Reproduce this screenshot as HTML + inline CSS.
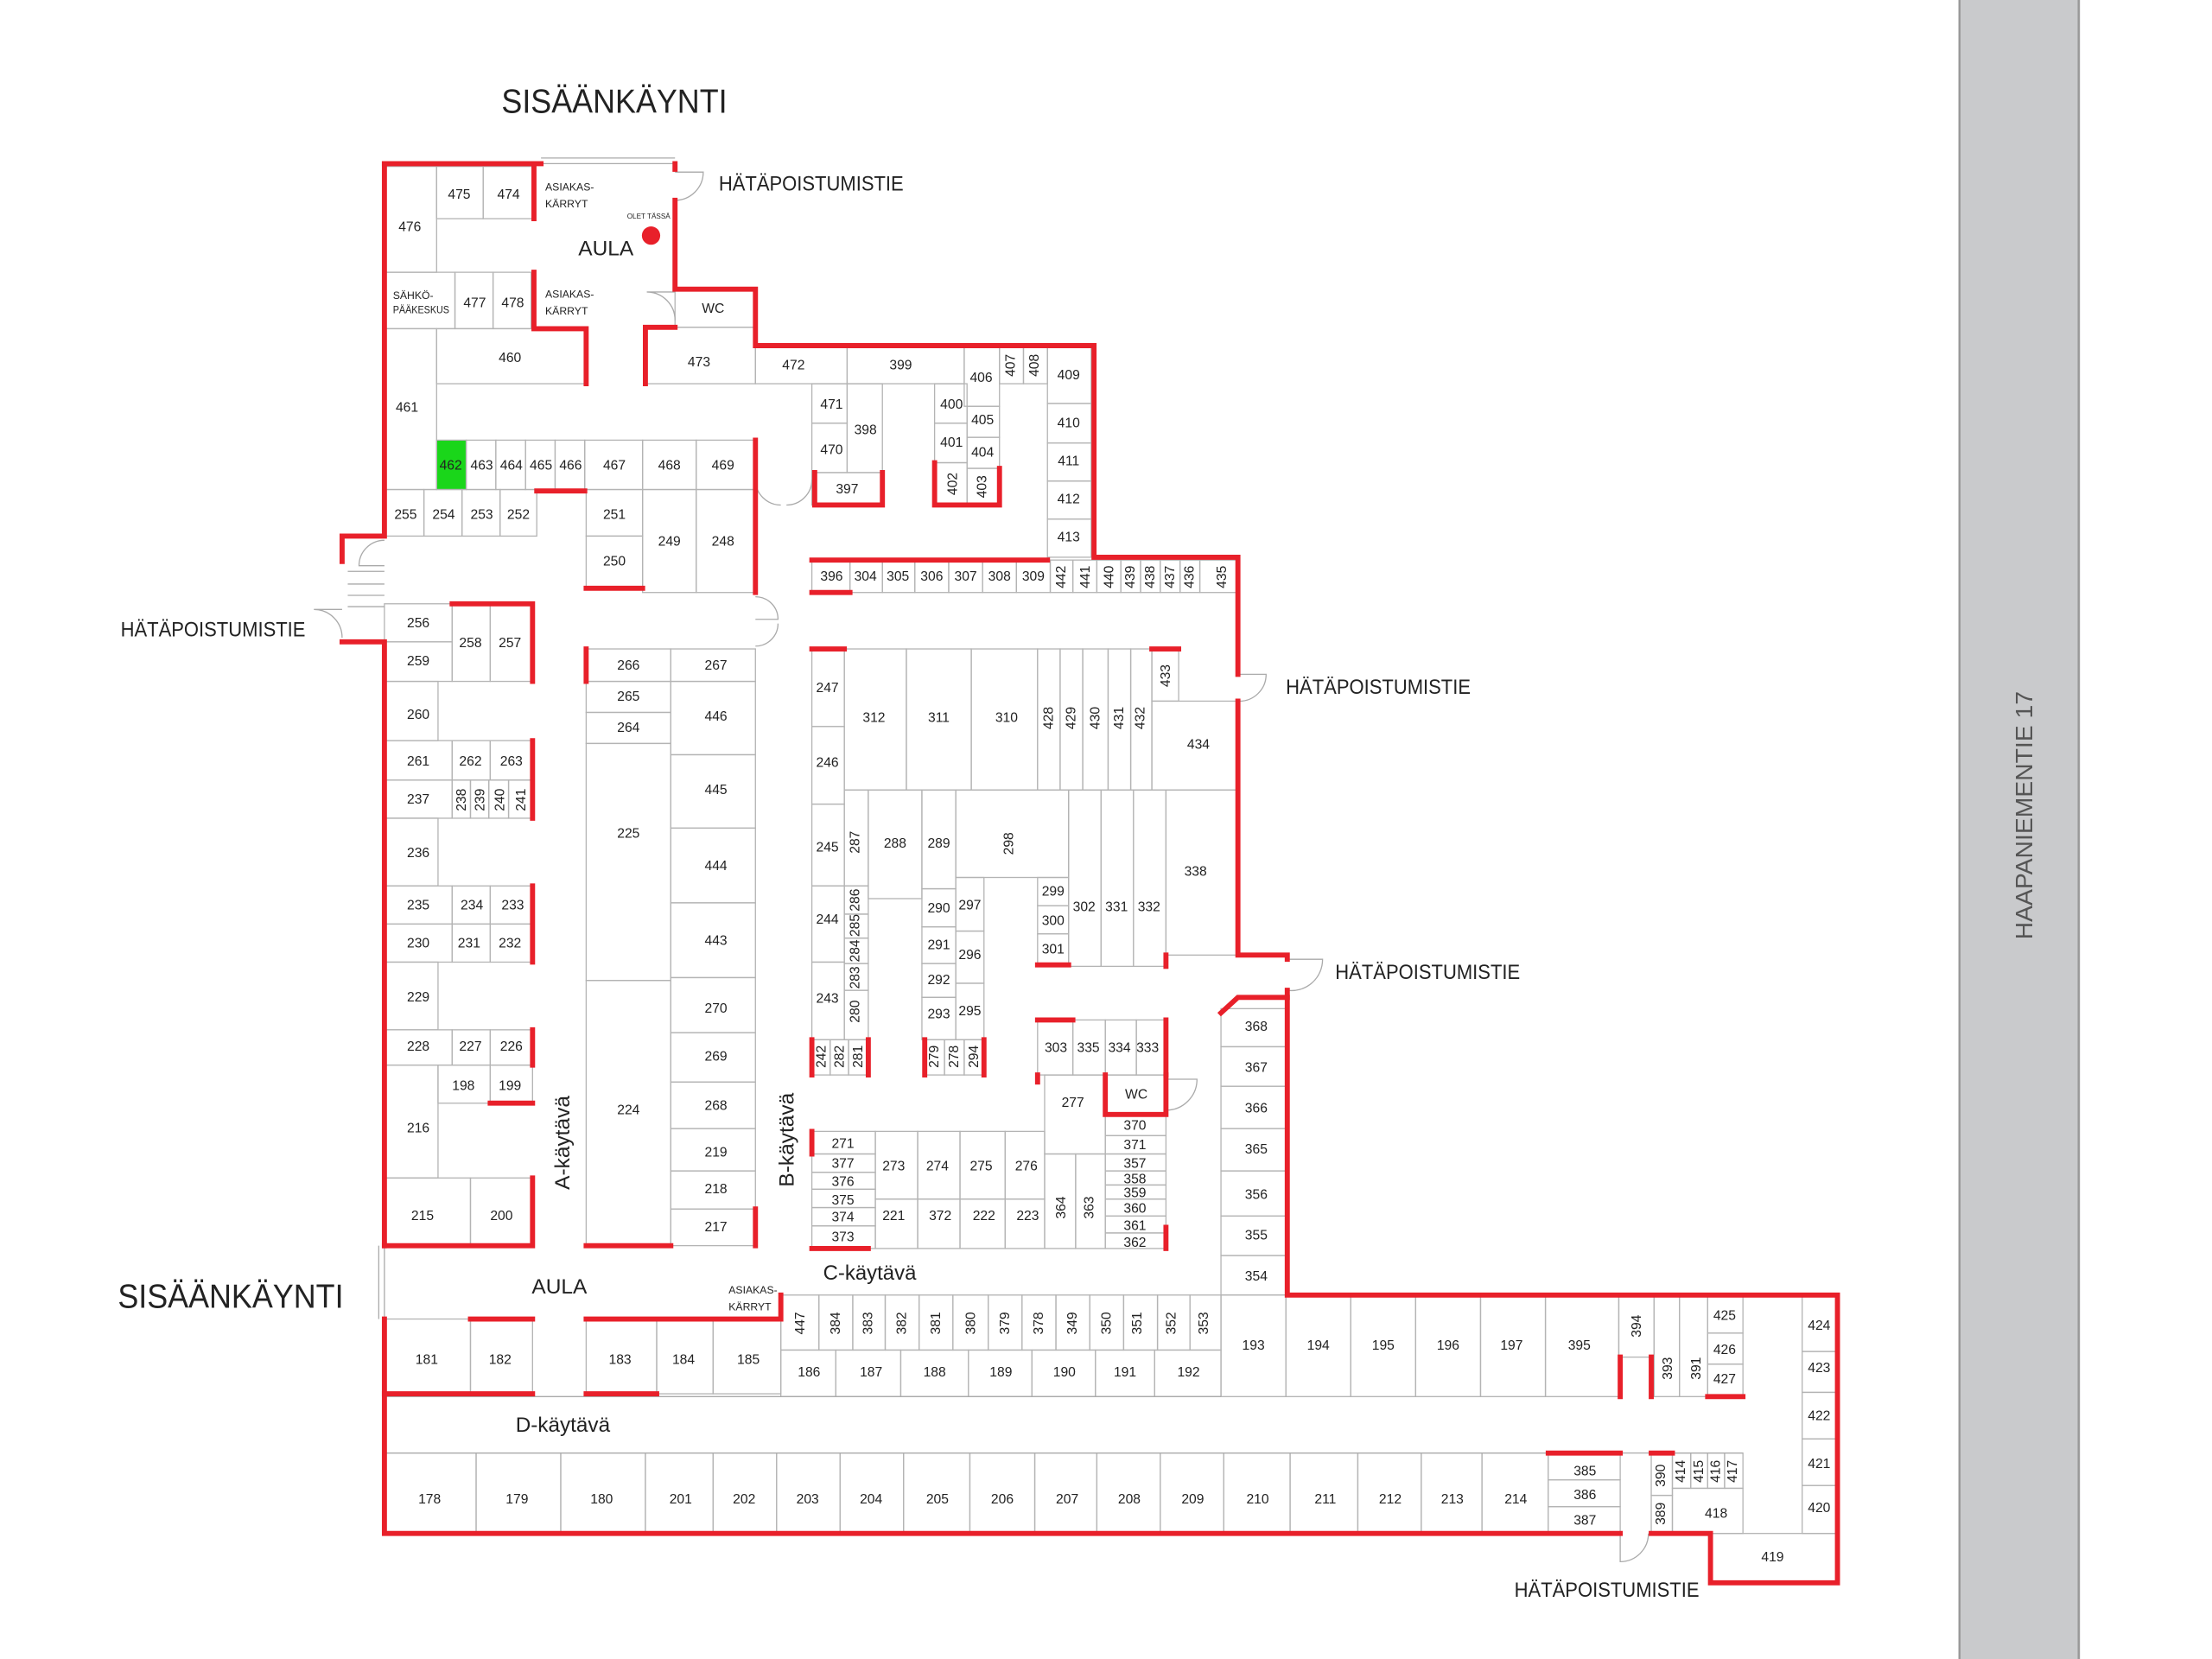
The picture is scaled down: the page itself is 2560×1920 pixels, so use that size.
<!DOCTYPE html>
<html><head><meta charset="utf-8"><style>
html,body{margin:0;padding:0;background:#fff}
svg{display:block}
.r rect{fill:none;stroke:#b4b4b4;stroke-width:0.8}
.w{fill:none;stroke:#e8202a;stroke-width:3.6;stroke-linecap:square}
.d{fill:none;stroke:#aaa;stroke-width:0.8}
text{font-family:"Liberation Sans",sans-serif;fill:#222}
.n text{font-size:9.6px;text-anchor:middle;dominant-baseline:central}
.L{font-size:15px}
</style></head><body>
<svg width="2560" height="1920" viewBox="0 0 1567 1176" xmlns="http://www.w3.org/2000/svg">
<rect x="1388" y="0" width="86" height="1176" fill="#c9cacc"/>
<line x1="1388.5" y1="0" x2="1388.5" y2="1176" stroke="#999" stroke-width="1.5"/>
<line x1="1473" y1="0" x2="1473" y2="1176" stroke="#999" stroke-width="1.5"/>
<text x="1440" y="578" transform="rotate(-90 1440 578)" text-anchor="middle" textLength="176" lengthAdjust="spacingAndGlyphs" style="font-size:17px;fill:#555">HAAPANIEMENTIE 17</text>
<rect x="309" y="312" width="21" height="35" fill="#1ad61a"/>
<g class="r">
<rect x="272" y="118" width="37" height="75"/><rect x="309" y="118" width="33" height="37"/><rect x="342" y="118" width="36" height="37"/>
<rect x="272" y="193" width="50" height="40"/><rect x="322" y="193" width="27" height="40"/><rect x="349" y="193" width="27" height="40"/>
<rect x="309" y="233" width="106" height="39"/><rect x="272" y="233" width="37" height="114"/>
<rect x="309" y="312" width="21" height="35"/><rect x="330" y="312" width="21" height="35"/><rect x="351" y="312" width="21" height="35"/><rect x="372" y="312" width="21" height="35"/><rect x="393" y="312" width="21" height="35"/><rect x="414" y="312" width="41" height="35"/><rect x="455" y="312" width="38" height="35"/><rect x="493" y="312" width="42" height="35"/>
<rect x="272" y="347" width="28" height="33"/><rect x="300" y="347" width="27" height="33"/><rect x="327" y="347" width="27" height="33"/><rect x="354" y="347" width="26" height="33"/>
<rect x="415" y="347" width="40" height="33"/><rect x="415" y="380" width="40" height="37"/><rect x="455" y="347" width="38" height="73"/><rect x="493" y="347" width="42" height="73"/>
<rect x="478" y="205" width="57" height="27"/><rect x="457" y="232" width="78" height="40"/><rect x="535" y="246" width="65" height="26"/><rect x="600" y="246" width="83" height="26"/><rect x="683" y="246" width="25" height="42"/><rect x="708" y="246" width="17" height="26"/><rect x="725" y="246" width="17" height="26"/>
<rect x="742" y="246" width="31" height="40"/><rect x="742" y="286" width="31" height="28"/><rect x="742" y="314" width="31" height="27"/><rect x="742" y="341" width="31" height="27"/><rect x="742" y="368" width="31" height="27"/>
<rect x="575" y="272" width="25" height="28"/><rect x="575" y="300" width="25" height="35"/><rect x="600" y="272" width="25" height="63"/><rect x="575" y="335" width="50" height="23"/>
<rect x="662" y="272" width="23" height="28"/><rect x="662" y="300" width="23" height="28"/><rect x="685" y="288" width="23" height="22"/><rect x="685" y="310" width="23" height="22"/><rect x="662" y="328" width="23" height="30"/><rect x="685" y="332" width="23" height="26"/>
<rect x="575" y="397" width="27" height="23"/><rect x="602" y="397" width="23" height="23"/><rect x="625" y="397" width="23" height="23"/><rect x="648" y="397" width="24" height="23"/><rect x="672" y="397" width="24" height="23"/><rect x="696" y="397" width="24" height="23"/><rect x="720" y="397" width="24" height="23"/><rect x="744" y="397" width="16" height="23"/><rect x="760" y="397" width="17" height="23"/><rect x="777" y="397" width="17" height="23"/><rect x="794" y="397" width="14" height="23"/><rect x="808" y="397" width="14" height="23"/><rect x="822" y="397" width="14" height="23"/><rect x="836" y="397" width="14" height="23"/><rect x="850" y="397" width="27" height="23"/>
<rect x="272" y="428" width="48" height="27"/><rect x="272" y="455" width="48" height="28"/><rect x="320" y="428" width="27" height="55"/><rect x="347" y="428" width="30" height="55"/>
<rect x="272" y="483" width="38" height="42"/>
<rect x="272" y="525" width="48" height="28"/><rect x="320" y="525" width="27" height="28"/><rect x="347" y="525" width="30" height="28"/>
<rect x="272" y="553" width="48" height="27"/><rect x="320" y="553" width="13" height="27"/><rect x="333" y="553" width="13" height="27"/><rect x="346" y="553" width="14" height="27"/><rect x="360" y="553" width="17" height="27"/>
<rect x="272" y="580" width="38" height="48"/>
<rect x="272" y="628" width="48" height="27"/><rect x="320" y="628" width="27" height="27"/><rect x="347" y="628" width="30" height="27"/>
<rect x="272" y="655" width="48" height="27"/><rect x="320" y="655" width="27" height="27"/><rect x="347" y="655" width="30" height="27"/>
<rect x="272" y="682" width="38" height="48"/>
<rect x="272" y="730" width="48" height="25"/><rect x="320" y="730" width="27" height="25"/><rect x="347" y="730" width="30" height="25"/>
<rect x="310" y="755" width="37" height="27"/><rect x="347" y="755" width="30" height="27"/><rect x="272" y="755" width="38" height="80"/>
<rect x="272" y="835" width="61" height="48"/><rect x="333" y="835" width="44" height="48"/>
<rect x="415" y="460" width="60" height="23"/><rect x="415" y="483" width="60" height="22"/><rect x="415" y="505" width="60" height="22"/><rect x="415" y="527" width="60" height="168"/><rect x="415" y="695" width="60" height="188"/>
<rect x="475" y="460" width="60" height="23"/><rect x="475" y="483" width="60" height="52"/><rect x="475" y="535" width="60" height="52"/><rect x="475" y="587" width="60" height="53"/><rect x="475" y="640" width="60" height="53"/><rect x="475" y="693" width="60" height="39"/><rect x="475" y="732" width="60" height="35"/><rect x="475" y="767" width="60" height="33"/><rect x="475" y="800" width="60" height="30"/><rect x="475" y="830" width="60" height="27"/><rect x="475" y="857" width="60" height="26"/>
<rect x="575" y="460" width="23" height="55"/><rect x="575" y="515" width="23" height="55"/><rect x="575" y="570" width="23" height="58"/><rect x="575" y="628" width="23" height="54"/><rect x="575" y="682" width="23" height="55"/>
<rect x="575" y="737" width="13" height="25"/><rect x="588" y="737" width="13" height="25"/><rect x="601" y="737" width="14" height="25"/>
<rect x="598" y="560" width="17" height="68"/><rect x="598" y="628" width="17" height="20"/><rect x="598" y="648" width="17" height="17"/><rect x="598" y="665" width="17" height="18"/><rect x="598" y="683" width="17" height="19"/><rect x="598" y="702" width="17" height="35"/>
<rect x="598" y="460" width="44" height="100"/><rect x="642" y="460" width="46" height="100"/><rect x="688" y="460" width="47" height="100"/><rect x="735" y="460" width="16" height="100"/><rect x="751" y="460" width="16" height="100"/><rect x="767" y="460" width="18" height="100"/><rect x="785" y="460" width="16" height="100"/><rect x="801" y="460" width="15" height="100"/><rect x="816" y="460" width="19" height="37"/><rect x="816" y="497" width="61" height="63"/>
<rect x="615" y="560" width="38" height="77"/><rect x="653" y="560" width="24" height="70"/><rect x="677" y="560" width="80" height="62"/>
<rect x="653" y="630" width="24" height="27"/><rect x="653" y="657" width="24" height="26"/><rect x="653" y="683" width="24" height="24"/><rect x="653" y="707" width="24" height="30"/><rect x="677" y="622" width="20" height="38"/><rect x="677" y="660" width="20" height="37"/><rect x="677" y="697" width="20" height="40"/>
<rect x="655" y="737" width="14" height="25"/><rect x="669" y="737" width="14" height="25"/><rect x="683" y="737" width="14" height="25"/>
<rect x="735" y="622" width="22" height="20"/><rect x="735" y="642" width="22" height="20"/><rect x="735" y="662" width="22" height="22"/>
<rect x="757" y="560" width="23" height="125"/><rect x="780" y="560" width="23" height="125"/><rect x="803" y="560" width="23" height="125"/><rect x="826" y="560" width="51" height="117"/>
<rect x="735" y="723" width="25" height="39"/><rect x="760" y="723" width="23" height="39"/><rect x="783" y="723" width="22" height="39"/><rect x="805" y="723" width="21" height="39"/>
<rect x="740" y="762" width="43" height="56"/><rect x="783" y="762" width="43" height="28"/>
<rect x="783" y="790" width="43" height="15"/><rect x="783" y="805" width="43" height="13"/><rect x="783" y="818" width="43" height="12"/><rect x="783" y="830" width="43" height="10"/><rect x="783" y="840" width="43" height="10"/><rect x="783" y="850" width="43" height="12"/><rect x="783" y="862" width="43" height="12"/><rect x="783" y="874" width="43" height="11"/>
<rect x="740" y="818" width="22" height="67"/><rect x="762" y="818" width="21" height="67"/>
<rect x="575" y="802" width="45" height="16"/><rect x="575" y="818" width="45" height="13"/><rect x="575" y="831" width="45" height="12"/><rect x="575" y="843" width="45" height="13"/><rect x="575" y="856" width="45" height="13"/><rect x="575" y="869" width="45" height="16"/>
<rect x="620" y="802" width="30" height="48"/><rect x="650" y="802" width="30" height="48"/><rect x="680" y="802" width="32" height="48"/><rect x="712" y="802" width="28" height="48"/>
<rect x="620" y="850" width="30" height="35"/><rect x="650" y="850" width="30" height="35"/><rect x="680" y="850" width="32" height="35"/><rect x="712" y="850" width="28" height="35"/>
<rect x="865" y="715" width="47" height="27"/><rect x="865" y="742" width="47" height="28"/><rect x="865" y="770" width="47" height="30"/><rect x="865" y="800" width="47" height="30"/><rect x="865" y="830" width="47" height="32"/><rect x="865" y="862" width="47" height="28"/><rect x="865" y="890" width="47" height="28"/>
<rect x="553" y="918" width="27" height="39"/><rect x="580" y="918" width="24" height="39"/><rect x="604" y="918" width="23" height="39"/><rect x="627" y="918" width="24" height="39"/><rect x="651" y="918" width="24" height="39"/><rect x="675" y="918" width="25" height="39"/><rect x="700" y="918" width="24" height="39"/><rect x="724" y="918" width="24" height="39"/><rect x="748" y="918" width="24" height="39"/><rect x="772" y="918" width="24" height="39"/><rect x="796" y="918" width="24" height="39"/><rect x="820" y="918" width="23" height="39"/><rect x="843" y="918" width="22" height="39"/>
<rect x="553" y="957" width="39" height="33"/><rect x="592" y="957" width="46" height="33"/><rect x="638" y="957" width="48" height="33"/><rect x="686" y="957" width="45" height="33"/><rect x="731" y="957" width="45" height="33"/><rect x="776" y="957" width="42" height="33"/><rect x="818" y="957" width="47" height="33"/>
<rect x="865" y="918" width="46" height="72"/><rect x="911" y="918" width="46" height="72"/><rect x="957" y="918" width="46" height="72"/><rect x="1003" y="918" width="46" height="72"/><rect x="1049" y="918" width="46" height="72"/><rect x="1095" y="918" width="52" height="72"/>
<rect x="1147" y="918" width="25" height="44"/><rect x="1172" y="918" width="18" height="72"/><rect x="1190" y="918" width="20" height="72"/><rect x="1210" y="918" width="25" height="27"/><rect x="1210" y="945" width="25" height="22"/><rect x="1210" y="967" width="25" height="23"/>
<rect x="1277" y="918" width="25" height="40"/><rect x="1277" y="958" width="25" height="29"/><rect x="1277" y="987" width="25" height="33"/><rect x="1277" y="1020" width="25" height="33"/><rect x="1277" y="1053" width="25" height="34"/>
<rect x="1212" y="1087" width="90" height="35"/><rect x="1185" y="1055" width="50" height="32"/>
<rect x="272" y="935" width="61" height="53"/><rect x="333" y="935" width="44" height="53"/><rect x="415" y="935" width="50" height="53"/><rect x="465" y="935" width="40" height="53"/><rect x="505" y="935" width="48" height="53"/>
<rect x="272" y="1030" width="65" height="57"/><rect x="337" y="1030" width="60" height="57"/><rect x="397" y="1030" width="60" height="57"/><rect x="457" y="1030" width="48" height="57"/><rect x="505" y="1030" width="45" height="57"/><rect x="550" y="1030" width="45" height="57"/><rect x="595" y="1030" width="45" height="57"/><rect x="640" y="1030" width="47" height="57"/><rect x="687" y="1030" width="46" height="57"/><rect x="733" y="1030" width="44" height="57"/><rect x="777" y="1030" width="45" height="57"/><rect x="822" y="1030" width="45" height="57"/><rect x="867" y="1030" width="47" height="57"/><rect x="914" y="1030" width="48" height="57"/><rect x="962" y="1030" width="45" height="57"/><rect x="1007" y="1030" width="43" height="57"/><rect x="1050" y="1030" width="47" height="57"/>
<rect x="1097" y="1030" width="51" height="19"/><rect x="1097" y="1049" width="51" height="19"/><rect x="1097" y="1068" width="51" height="19"/>
<rect x="1170" y="1030" width="15" height="30"/><rect x="1170" y="1060" width="15" height="27"/><rect x="1185" y="1030" width="13" height="25"/><rect x="1198" y="1030" width="12" height="25"/><rect x="1210" y="1030" width="12" height="25"/><rect x="1222" y="1030" width="13" height="25"/>
</g>
<g class="d">
<line x1="383" y1="112" x2="478" y2="112"/><line x1="383" y1="116" x2="478" y2="116"/>
<path d="M478,122 H498 A20,20 0 0 1 478,142"/>
<path d="M478,207 H458 A20,20 0 0 1 478,227"/>
<path d="M877,478 H897 A19,19 0 0 1 877,497"/>
<path d="M912,680 H937 A22,22 0 0 1 912,702"/>
<path d="M826,765 H848 A22,22 0 0 1 826,787"/>
<path d="M1148,1087 V1107 A20,20 0 0 0 1168,1087"/>
<path d="M242,432 H222 A20,20 0 0 1 242,452"/>
<path d="M272,383 A18,18 0 0 0 254,401 H272"/>
<path d="M535,340 A18,18 0 0 0 553,358 M575,340 A18,18 0 0 1 557,358"/>
<path d="M535,423 A16,16 0 0 1 551,439 H535 M535,458 A16,16 0 0 0 551,442"/>
<line x1="246" y1="405" x2="272" y2="405"/><line x1="246" y1="414" x2="272" y2="414"/><line x1="246" y1="422" x2="272" y2="422"/><line x1="246" y1="430" x2="272" y2="430"/>
<line x1="268" y1="883" x2="268" y2="935"/><line x1="272" y1="883" x2="272" y2="935"/>
<line x1="272" y1="990" x2="865" y2="990"/><line x1="272" y1="1030" x2="1235" y2="1030"/>
</g>
<g class="w">
<path d="M272,116 H383"/>
<path d="M478,116 V120 M478,142 V205 H535 V245 H775 V395 H877 V478 M877,497 V677 H912 V680 M912,702 V918 H1302 V1122 H1212 V1087 H1170 M1148,1087 H272 V935"/>
<path d="M272,116 V380 H242 V398 M242,455 H272 V883"/>
<path d="M378,116 V155"/><path d="M378,193 V233 H415 V272"/>
<path d="M478,232 H457 V272"/><path d="M535,312 V420"/><path d="M380,348 H414"/><path d="M415,417 H455"/>
<path d="M577,335 V358 H625 V335"/><path d="M662,328 V358 H708 V332"/>
<path d="M575,397 H742"/><path d="M575,420 H602"/>
<path d="M320,428 H377 V483"/><path d="M377,525 V580"/><path d="M377,628 V682"/><path d="M377,730 V755"/><path d="M347,782 H377"/>
<path d="M272,883 H377 V835"/><path d="M415,460 V483"/><path d="M415,883 H475"/><path d="M535,857 V883"/>
<path d="M575,460 H598"/><path d="M575,737 V762 M615,737 V762"/><path d="M655,737 V762 M697,737 V762"/>
<path d="M735,684 H757"/><path d="M826,677 V685"/><path d="M735,723 H760"/><path d="M826,723 V762"/><path d="M735,762 V767"/>
<path d="M783,762 V790 H826 V762"/><path d="M826,870 V885"/><path d="M575,802 V818"/><path d="M575,885 H615"/>
<path d="M816,460 H835"/><path d="M865,718 L877,707 H912"/>
<path d="M333,935 H377"/><path d="M415,935 H553 V918"/><path d="M272,988 H377"/><path d="M415,988 H465"/>
<path d="M1097,1030 H1148"/><path d="M1170,1030 H1185"/><path d="M1148,962 V990"/><path d="M1170,962 V990"/><path d="M1210,990 H1235"/>
</g>
<circle cx="461" cy="167" r="6.5" fill="#e8202a"/>
<g class="n">
<text x="290" y="161">476</text><text x="325" y="138">475</text><text x="360" y="138">474</text>
<text x="336" y="215">477</text><text x="363" y="215">478</text><text x="361" y="254">460</text><text x="288" y="289">461</text>
<text x="319" y="330">462</text><text x="341" y="330">463</text><text x="362" y="330">464</text><text x="383" y="330">465</text><text x="404" y="330">466</text><text x="435" y="330">467</text><text x="474" y="330">468</text><text x="512" y="330">469</text>
<text x="287" y="365">255</text><text x="314" y="365">254</text><text x="341" y="365">253</text><text x="367" y="365">252</text>
<text x="435" y="365">251</text><text x="435" y="398">250</text><text x="474" y="384">249</text><text x="512" y="384">248</text>
<text x="505" y="219">WC</text><text x="495" y="257">473</text><text x="562" y="259">472</text><text x="638" y="259">399</text><text x="695" y="268">406</text>
<text x="716" y="259" transform="rotate(-90 716 259)">407</text><text x="733" y="259" transform="rotate(-90 733 259)">408</text>
<text x="757" y="266">409</text><text x="757" y="300">410</text><text x="757" y="327">411</text><text x="757" y="354">412</text><text x="757" y="381">413</text>
<text x="589" y="287">471</text><text x="589" y="319">470</text><text x="613" y="305">398</text><text x="600" y="347">397</text>
<text x="674" y="287">400</text><text x="674" y="314">401</text><text x="696" y="298">405</text><text x="696" y="321">404</text>
<text x="675" y="343" transform="rotate(-90 675 343)">402</text><text x="696" y="345" transform="rotate(-90 696 345)">403</text>
<text x="589" y="409">396</text><text x="613" y="409">304</text><text x="636" y="409">305</text><text x="660" y="409">306</text><text x="684" y="409">307</text><text x="708" y="409">308</text><text x="732" y="409">309</text>
<g style="font-size:8px"><text x="752" y="409" transform="rotate(-90 752 409)">442</text><text x="769" y="409" transform="rotate(-90 769 409)">441</text><text x="786" y="409" transform="rotate(-90 786 409)">440</text><text x="801" y="409" transform="rotate(-90 801 409)">439</text><text x="815" y="409" transform="rotate(-90 815 409)">438</text><text x="829" y="409" transform="rotate(-90 829 409)">437</text><text x="843" y="409" transform="rotate(-90 843 409)">436</text><text x="866" y="409" transform="rotate(-90 866 409)">435</text></g>
<text x="296" y="442">256</text><text x="296" y="469">259</text><text x="333" y="456">258</text><text x="361" y="456">257</text><text x="296" y="507">260</text>
<text x="296" y="540">261</text><text x="333" y="540">262</text><text x="362" y="540">263</text><text x="296" y="567">237</text>
<text x="327" y="567" transform="rotate(-90 327 567)">238</text><text x="340" y="567" transform="rotate(-90 340 567)">239</text><text x="354" y="567" transform="rotate(-90 354 567)">240</text><text x="369" y="567" transform="rotate(-90 369 567)">241</text>
<text x="296" y="605">236</text><text x="296" y="642">235</text><text x="334" y="642">234</text><text x="363" y="642">233</text>
<text x="296" y="669">230</text><text x="332" y="669">231</text><text x="361" y="669">232</text><text x="296" y="707">229</text>
<text x="296" y="742">228</text><text x="333" y="742">227</text><text x="362" y="742">226</text><text x="328" y="770">198</text><text x="361" y="770">199</text>
<text x="296" y="800">216</text><text x="299" y="862">215</text><text x="355" y="862">200</text>
<text x="445" y="472">266</text><text x="445" y="494">265</text><text x="445" y="516">264</text><text x="445" y="591">225</text><text x="445" y="787">224</text>
<text x="507" y="472">267</text><text x="507" y="508">446</text><text x="507" y="560">445</text><text x="507" y="614">444</text><text x="507" y="667">443</text><text x="507" y="715">270</text><text x="507" y="749">269</text><text x="507" y="784">268</text><text x="507" y="817">219</text><text x="507" y="843">218</text><text x="507" y="870">217</text>
<text x="586" y="488">247</text><text x="586" y="541">246</text><text x="586" y="601">245</text><text x="586" y="652">244</text><text x="586" y="708">243</text>
<text x="606" y="597" transform="rotate(-90 606 597)">287</text><text x="606" y="638" transform="rotate(-90 606 638)">286</text><text x="606" y="656" transform="rotate(-90 606 656)">285</text><text x="606" y="674" transform="rotate(-90 606 674)">284</text><text x="606" y="693" transform="rotate(-90 606 693)">283</text><text x="606" y="717" transform="rotate(-90 606 717)">280</text>
<text x="582" y="749" transform="rotate(-90 582 749)">242</text><text x="595" y="749" transform="rotate(-90 595 749)">282</text><text x="608" y="749" transform="rotate(-90 608 749)">281</text>
<text x="619" y="509">312</text><text x="665" y="509">311</text><text x="713" y="509">310</text>
<text x="743" y="509" transform="rotate(-90 743 509)">428</text><text x="759" y="509" transform="rotate(-90 759 509)">429</text><text x="776" y="509" transform="rotate(-90 776 509)">430</text><text x="793" y="509" transform="rotate(-90 793 509)">431</text><text x="808" y="509" transform="rotate(-90 808 509)">432</text><text x="826" y="479" transform="rotate(-90 826 479)">433</text>
<text x="849" y="528">434</text><text x="634" y="598">288</text><text x="665" y="598">289</text><text x="715" y="598" transform="rotate(-90 715 598)">298</text>
<text x="665" y="644">290</text><text x="665" y="670">291</text><text x="665" y="695">292</text><text x="665" y="719">293</text><text x="687" y="642">297</text><text x="687" y="677">296</text><text x="687" y="717">295</text>
<g style="font-size:8px"><text x="662" y="749" transform="rotate(-90 662 749)">279</text><text x="676" y="749" transform="rotate(-90 676 749)">278</text><text x="690" y="749" transform="rotate(-90 690 749)">294</text></g>
<text x="746" y="632">299</text><text x="746" y="653">300</text><text x="746" y="673">301</text><text x="768" y="643">302</text><text x="791" y="643">331</text><text x="814" y="643">332</text><text x="847" y="618">338</text>
<text x="748" y="743">303</text><text x="771" y="743">335</text><text x="793" y="743">334</text><text x="813" y="743">333</text>
<text x="760" y="782">277</text><text x="805" y="776">WC</text>
<text x="804" y="798">370</text><text x="804" y="812">371</text><text x="804" y="825">357</text><text x="804" y="836">358</text><text x="804" y="846">359</text><text x="804" y="857">360</text><text x="804" y="869">361</text><text x="804" y="881">362</text>
<text x="752" y="856" transform="rotate(-90 752 856)">364</text><text x="772" y="856" transform="rotate(-90 772 856)">363</text>
<text x="597" y="811">271</text><text x="597" y="825">377</text><text x="597" y="838">376</text><text x="597" y="851">375</text><text x="597" y="863">374</text><text x="597" y="877">373</text>
<text x="633" y="827">273</text><text x="664" y="827">274</text><text x="695" y="827">275</text><text x="727" y="827">276</text>
<text x="633" y="862">221</text><text x="666" y="862">372</text><text x="697" y="862">222</text><text x="728" y="862">223</text>
<text x="890" y="728">368</text><text x="890" y="757">367</text><text x="890" y="786">366</text><text x="890" y="815">365</text><text x="890" y="847">356</text><text x="890" y="876">355</text><text x="890" y="905">354</text>
<text x="567" y="938" transform="rotate(-90 567 938)">447</text><text x="592" y="938" transform="rotate(-90 592 938)">384</text><text x="615" y="938" transform="rotate(-90 615 938)">383</text><text x="639" y="938" transform="rotate(-90 639 938)">382</text><text x="663" y="938" transform="rotate(-90 663 938)">381</text><text x="688" y="938" transform="rotate(-90 688 938)">380</text><text x="712" y="938" transform="rotate(-90 712 938)">379</text><text x="736" y="938" transform="rotate(-90 736 938)">378</text><text x="760" y="938" transform="rotate(-90 760 938)">349</text><text x="784" y="938" transform="rotate(-90 784 938)">350</text><text x="806" y="938" transform="rotate(-90 806 938)">351</text><text x="830" y="938" transform="rotate(-90 830 938)">352</text><text x="853" y="938" transform="rotate(-90 853 938)">353</text>
<text x="573" y="973">186</text><text x="617" y="973">187</text><text x="662" y="973">188</text><text x="709" y="973">189</text><text x="754" y="973">190</text><text x="797" y="973">191</text><text x="842" y="973">192</text>
<text x="888" y="954">193</text><text x="934" y="954">194</text><text x="980" y="954">195</text><text x="1026" y="954">196</text><text x="1071" y="954">197</text><text x="1119" y="954">395</text>
<text x="1160" y="940" transform="rotate(-90 1160 940)">394</text><text x="1182" y="970" transform="rotate(-90 1182 970)">393</text><text x="1202" y="970" transform="rotate(-90 1202 970)">391</text>
<text x="1222" y="933">425</text><text x="1222" y="957">426</text><text x="1222" y="978">427</text>
<text x="1289" y="940">424</text><text x="1289" y="970">423</text><text x="1289" y="1004">422</text><text x="1289" y="1038">421</text><text x="1289" y="1069">420</text><text x="1256" y="1104">419</text><text x="1216" y="1073">418</text>
<text x="302" y="964">181</text><text x="354" y="964">182</text><text x="439" y="964">183</text><text x="484" y="964">184</text><text x="530" y="964">185</text>
<text x="304" y="1063">178</text><text x="366" y="1063">179</text><text x="426" y="1063">180</text><text x="482" y="1063">201</text><text x="527" y="1063">202</text><text x="572" y="1063">203</text><text x="617" y="1063">204</text><text x="664" y="1063">205</text><text x="710" y="1063">206</text><text x="756" y="1063">207</text><text x="800" y="1063">208</text><text x="845" y="1063">209</text><text x="891" y="1063">210</text><text x="939" y="1063">211</text><text x="985" y="1063">212</text><text x="1029" y="1063">213</text><text x="1074" y="1063">214</text>
<text x="1123" y="1043">385</text><text x="1123" y="1060">386</text><text x="1123" y="1078">387</text>
<text x="1177" y="1046" transform="rotate(-90 1177 1046)">390</text><text x="1177" y="1073" transform="rotate(-90 1177 1073)">389</text>
<g style="font-size:9px"><text x="1191" y="1043" transform="rotate(-90 1191 1043)">414</text><text x="1204" y="1043" transform="rotate(-90 1204 1043)">415</text><text x="1216" y="1043" transform="rotate(-90 1216 1043)">416</text><text x="1228" y="1043" transform="rotate(-90 1228 1043)">417</text></g>
</g>
<g style="font-size:7.5px">
<text x="278" y="212">SÄHKÖ-</text><text x="278" y="222" textLength="40" lengthAdjust="spacingAndGlyphs">PÄÄKESKUS</text>
<text x="386" y="135">ASIAKAS-</text><text x="386" y="147">KÄRRYT</text>
<text x="386" y="211">ASIAKAS-</text><text x="386" y="223">KÄRRYT</text>
<text x="516" y="917">ASIAKAS-</text><text x="516" y="929">KÄRRYT</text>
<text x="444" y="155" style="font-size:5px">OLET TÄSSÄ</text>
</g>
<text x="355" y="80" textLength="160" lengthAdjust="spacingAndGlyphs" style="font-size:24px">SISÄÄNKÄYNTI</text>
<text x="83" y="927" textLength="160" lengthAdjust="spacingAndGlyphs" style="font-size:24px">SISÄÄNKÄYNTI</text>
<text class="L" x="509" y="135" textLength="131" lengthAdjust="spacingAndGlyphs">HÄTÄPOISTUMISTIE</text>
<text class="L" x="85" y="451" textLength="131" lengthAdjust="spacingAndGlyphs">HÄTÄPOISTUMISTIE</text>
<text class="L" x="911" y="492" textLength="131" lengthAdjust="spacingAndGlyphs">HÄTÄPOISTUMISTIE</text>
<text class="L" x="946" y="694" textLength="131" lengthAdjust="spacingAndGlyphs">HÄTÄPOISTUMISTIE</text>
<text class="L" x="1073" y="1132" textLength="131" lengthAdjust="spacingAndGlyphs">HÄTÄPOISTUMISTIE</text>
<text class="L" x="429" y="181" text-anchor="middle">AULA</text>
<text class="L" x="396" y="917" text-anchor="middle">AULA</text>
<text class="L" x="583" y="907" textLength="66" lengthAdjust="spacingAndGlyphs">C-käytävä</text>
<text class="L" x="365" y="1015" textLength="67" lengthAdjust="spacingAndGlyphs">D-käytävä</text>
<text class="L" x="403" y="810" text-anchor="middle" transform="rotate(-90 403 810)">A-käytävä</text>
<text class="L" x="562" y="808" text-anchor="middle" transform="rotate(-90 562 808)">B-käytävä</text>
</svg>
</body></html>
